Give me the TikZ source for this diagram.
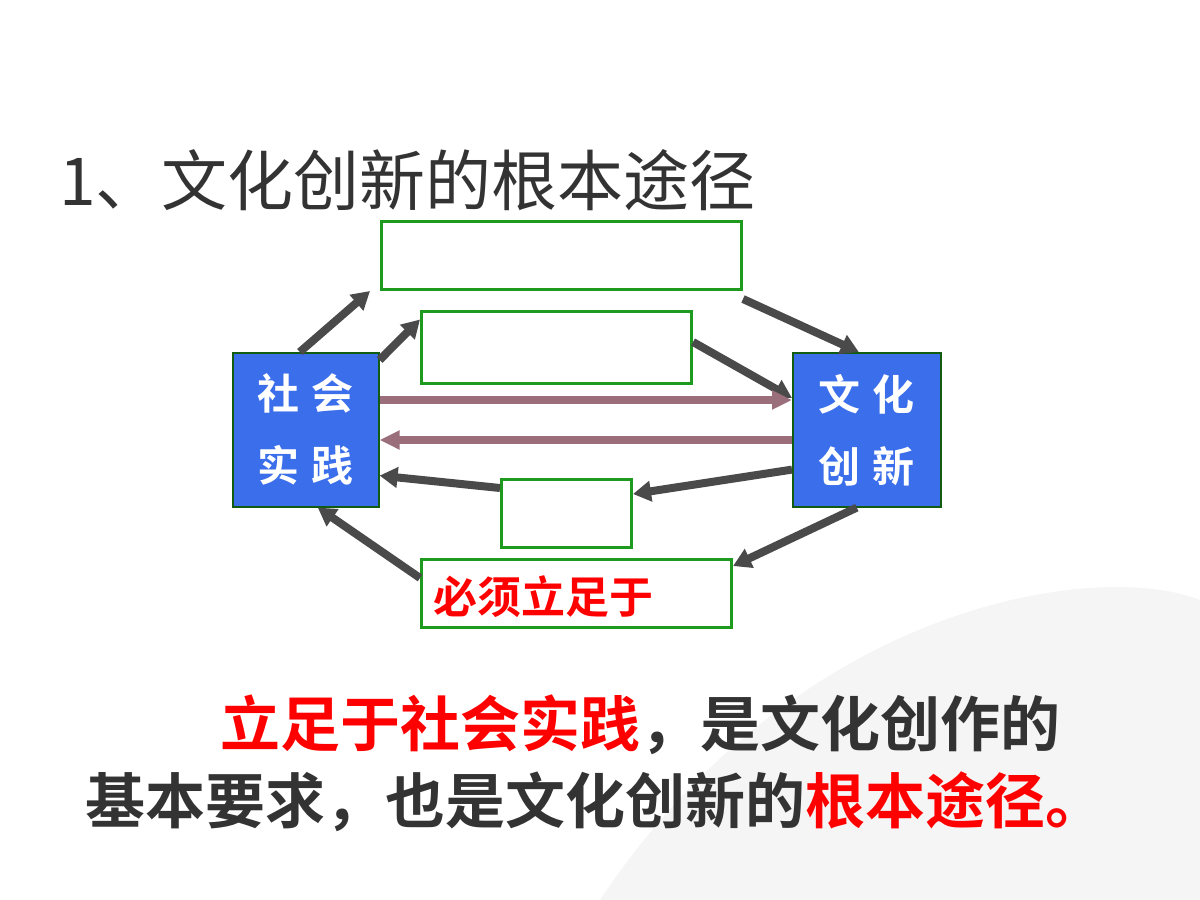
\documentclass[tikz,border=0pt]{standalone}
\usepackage{fontspec}
\setmainfont{Liberation Sans}
\newfontfamily\cjk{Noto Sans CJK SC}
\newfontfamily\cjkb{Noto Sans CJK SC Bold}
\usetikzlibrary{arrows.meta}
\definecolor{bluebox}{HTML}{3A6EEA}
\definecolor{greenb}{HTML}{1E9A1E}
\definecolor{darkg}{HTML}{4A4A4A}
\definecolor{mauve}{HTML}{9A6E7A}
\definecolor{txt}{HTML}{333333}
\begin{document}
\begin{tikzpicture}[x=0.5pt,y=-0.5pt,
  gbox/.style={draw=greenb,line width=1.5pt,fill=white},
  bbox/.style={draw=greenb!60!black,line width=0.8pt,fill=bluebox,text=white,font=\cjkb\fontsize{21}{36}\selectfont,align=center},
  garrow/.style={draw=darkg,line width=4pt,-{Triangle[length=9pt,width=10pt]}},
  marrow/.style={draw=mauve,line width=4pt,-{Triangle[length=10pt,width=9pt]}}]
\useasboundingbox (0,0) rectangle (1200,900);
\fill[gray!8] (600,900) .. controls (800,600) and (1100,560) .. (1200,600) -- (1200,900) -- cycle;
\node[anchor=west,text=txt,font=\cjk\fontsize{33}{38}\selectfont] (title) at (52,180) {1、文化创新的根本途径};
\node[gbox,minimum width=180pt,minimum height=34pt,anchor=north west] (top) at (380,220) {};
\node[gbox,minimum width=135pt,minimum height=36pt,anchor=north west] (mid) at (420,310) {};
\node[gbox,minimum width=65pt,minimum height=34pt,anchor=north west] (small) at (500,478) {};
\node[gbox,minimum width=155pt,minimum height=34pt,anchor=north west] (bot) at (420,558) {};
\node[anchor=west,text=red,font=\cjkb\fontsize{22}{24}\selectfont] (botlab) at (426,597) {必须立足于};
\node[bbox,minimum width=73pt,minimum height=77pt,anchor=north west] (L) at (232,352) {社\hspace{6pt}会\\实\hspace{6pt}践};
\node[bbox,minimum width=74pt,minimum height=77pt,anchor=north west] (R) at (792,352) {文\hspace{6pt}化\\创\hspace{6pt}新};
\draw[garrow] ([xshift=-3pt]L.north) -- ([xshift=-5pt]top.south west);
\draw[garrow] ([yshift=-4pt]L.north east) -- ([yshift=14pt]mid.west);
\draw[garrow] ([yshift=-4pt]top.south east) -- ([xshift=-4pt]R.north);
\draw[garrow] ([yshift=-16pt]mid.north east) -- ([yshift=-23pt]R.north west);
\draw[marrow] ([yshift=-24pt]L.north east) -- ([yshift=-24pt]R.north west);
\draw[marrow] ([yshift=-44pt]R.north west) -- ([yshift=-44pt]L.north east);
\draw[garrow] ([yshift=19pt]R.south west) -- ([yshift=-8pt]small.north east);
\draw[garrow] ([yshift=-5pt]small.north west) -- ([yshift=16pt]L.south east);
\draw[garrow] ([xshift=-5pt]R.south) -- ([yshift=-4pt]bot.north east);
\draw[garrow] ([yshift=-10pt]bot.north west) -- ([xshift=6pt]L.south);
\node[anchor=west,text=txt,font=\cjkb\fontsize{30}{36}\selectfont] (l1) at (213,725) {\textcolor{red}{立足于社会实践}，是文化创作的};
\node[anchor=west,text=txt,font=\cjkb\fontsize{30}{36}\selectfont] (l2) at (78,802) {基本要求，也是文化创新的\textcolor{red}{根本途径。}};
\end{tikzpicture}
\end{document}
